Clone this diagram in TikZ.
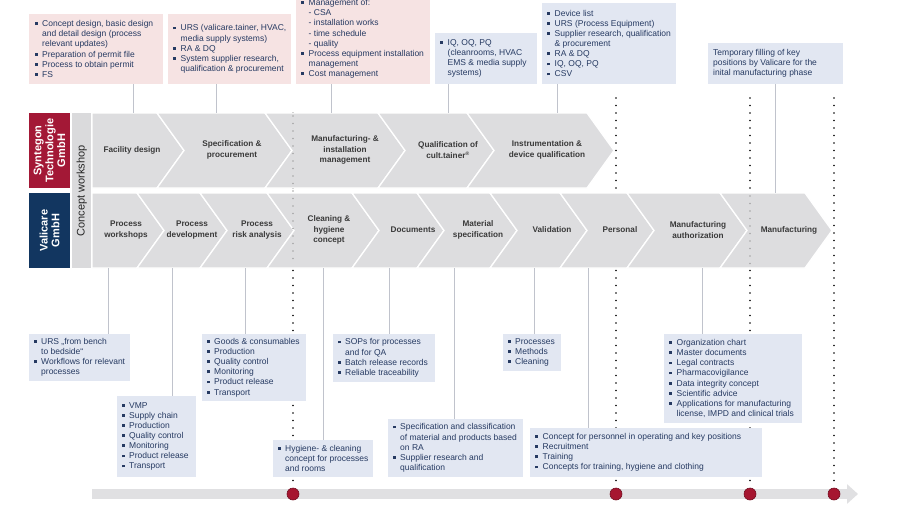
\documentclass[tikz,border=0pt]{standalone}
\usepackage{fontspec}
\setmainfont{Liberation Sans}
\usetikzlibrary{calc,arrows.meta}
\definecolor{pinkbox}{RGB}{246,227,227}
\definecolor{bluebox}{RGB}{226,231,242}
\definecolor{chev}{RGB}{221,221,223}
\definecolor{stripc}{RGB}{218,218,220}
\definecolor{synred}{RGB}{163,24,54}
\definecolor{valblue}{RGB}{18,54,96}
\definecolor{txtblue}{RGB}{38,58,98}
\definecolor{chevtxt}{RGB}{58,58,58}
\definecolor{connc}{RGB}{192,195,204}
\definecolor{dotred}{RGB}{166,22,48}
\definecolor{barc}{RGB}{224,224,226}
\newcommand\bul{\makebox[7.5pt][l]{\rule[1.5pt]{2.8pt}{2.8pt}}}
\newcommand\ind{\hspace*{7.5pt}}
\newcommand\chvnotch[4]{\filldraw[chevst] (#1,#3) -- (#2,#3) -- ({#2+27},{(#3+#4)/2}) -- (#2,#4) -- (#1,#4) -- ({#1+27},{(#3+#4)/2}) -- cycle;}
\newcommand\chvfirst[4]{\filldraw[chevst] (#1,#3) -- (#2,#3) -- ({#2+27},{(#3+#4)/2}) -- (#2,#4) -- (#1,#4) -- cycle;}
\begin{document}
\begin{tikzpicture}[x=1pt,y=-1pt,
  chevst/.style={fill=chev,draw=white,line width=1.3pt,line join=miter},
  pbox/.style={fill=pinkbox,anchor=north west,inner sep=0pt,outer sep=0pt},
  bbox/.style={fill=bluebox,anchor=north west,inner sep=0pt,outer sep=0pt},
  btxt/.style={anchor=west,inner sep=0pt,font=\fontsize{8.5}{10.15}\selectfont,text=txtblue,align=left},
  ctxt/.style={inner sep=0pt,font=\fontsize{8.2}{10.5}\selectfont\bfseries,text=chevtxt,align=center},
  conn/.style={draw=connc,line width=0.8pt},
  dotl/.style={draw=black,line width=1.7pt,line cap=round,dash pattern=on 0pt off 7.5pt},
  dotg/.style={draw=black!35,line width=1.6pt,line cap=round,dash pattern=on 0pt off 7.5pt},
  reddot/.style={circle,fill=dotred,draw=dotred!70!black,line width=0.6pt,minimum size=12pt,inner sep=0pt},
  comp/.style={inner sep=0pt,outer sep=0pt,minimum width=41pt,minimum height=75pt,anchor=north west}
]
\useasboundingbox (0,0) rectangle (900,506);
\fill[white] (0,0) rectangle (900,506);

% named coordinates
\coordinate (k1) at (133,113);
\coordinate (k2) at (216,113);
\coordinate (k3) at (331,113);
\coordinate (k4) at (448,113);
\coordinate (k5) at (557,113);
\coordinate (k6) at (775,193);
\coordinate (m1) at (108,268);
\coordinate (m2) at (172,268);
\coordinate (m3) at (245,268);
\coordinate (m4) at (323,268);
\coordinate (m5) at (389,268);
\coordinate (m6) at (454,268);
\coordinate (m7) at (534,268);
\coordinate (m8) at (588,268);
\coordinate (m9) at (702,268);
\coordinate (ds1) at (293,113);
\coordinate (ds2) at (616,98);
\coordinate (ds3) at (750,98);
\coordinate (ds4) at (834,98);
\coordinate (barL) at (92,494);
\coordinate (barR) at (858,494);

% timeline bar
\draw[barc,line width=10pt,-{Triangle[length=11pt,width=19pt]}] (barL) -- (barR);

% milestone dots
\node[reddot] (dot1) at (293,494) {};
\node[reddot] (dot2) at (616,494) {};
\node[reddot] (dot3) at (750,494) {};
\node[reddot] (dot4) at (834,494) {};

% dotted milestone lines
\draw[dotl] (ds1) -- (dot1.north);
\draw[dotl] (ds2) -- (dot2.north);
\draw[dotl] (ds3) -- (dot3.north);
\draw[dotl] (ds4) -- (dot4.north);

% company labels and concept workshop strip
\node[comp,fill=synred] (syn) at (29,113) {};
\node[rotate=90,font=\fontsize{11}{11.8}\selectfont\bfseries,text=white,align=center,inner sep=0pt] (synt) at (syn.center) {Syntegon\\Technologie\\GmbH};
\node[comp,fill=valblue] (val) at (29,193) {};
\node[rotate=90,font=\fontsize{11}{11.8}\selectfont\bfseries,text=white,align=center,inner sep=0pt] (valt) at (val.center) {Valicare\\GmbH};
\node[fill=stripc,anchor=north west,inner sep=0pt,minimum width=19pt,minimum height=155pt] (cw) at (72,113) {};
\node[rotate=90,font=\fontsize{11}{12}\selectfont,text=black!85,inner sep=0pt] (cwt) at (cw.center) {Concept workshop};

% top chevron row (Syntegon)
\chvfirst{92}{157}{113}{188}
\chvnotch{157}{265}{113}{188}
\chvnotch{265}{378}{113}{188}
\chvnotch{378}{467}{113}{188}
\chvnotch{467}{587}{113}{188}
% bottom chevron row (Valicare)
\chvfirst{92}{137}{193}{268}
\chvnotch{137}{200}{193}{268}
\chvnotch{200}{267}{193}{268}
\chvnotch{267}{352}{193}{268}
\chvnotch{352}{417}{193}{268}
\chvnotch{417}{490}{193}{268}
\chvnotch{490}{560}{193}{268}
\chvnotch{560}{627}{193}{268}
\chvnotch{627}{720}{193}{268}
\chvnotch{720}{805}{193}{268}

% dotted lines seen through the rows
\draw[dotg] (293,116) -- (293,266);
\draw[dotg] (750,196) -- (750,266);

% chevron labels
\node[ctxt] (c1) at (132,150) {Facility design};
\node[ctxt] (c2) at (232,150) {Specification \&\\procurement};
\node[ctxt] (c3) at (345,150) {Manufacturing- \&\\installation\\management};
\node[ctxt] (c4) at (448,150) {Qualification of\\cult.tainer\textsuperscript{\tiny\textregistered}};
\node[ctxt] (c5) at (547,150) {Instrumentation \&\\device qualification};
\node[ctxt] (v1) at (126,230) {Process\\workshops};
\node[ctxt] (v2) at (192,230) {Process\\development};
\node[ctxt] (v3) at (257,230) {Process\\risk analysis};
\node[ctxt] (v4) at (329,230) {Cleaning \&\\hygiene\\concept};
\node[ctxt] (v5) at (413,230) {Documents};
\node[ctxt] (v6) at (478,230) {Material\\specification};
\node[ctxt] (v7) at (552,230) {Validation};
\node[ctxt] (v8) at (620,230) {Personal};
\node[ctxt] (v9) at (698,230) {Manufacturing\\authorization};
\node[ctxt] (v10) at (789,230) {Manufacturing};

% top boxes
\node[pbox,minimum width=134pt,minimum height=70pt] (t1) at (29,14) {};
\node[btxt] (t1x) at ([xshift=5.5pt]t1.west) {\bul Concept design, basic design\\\ind and detail design (process\\\ind relevant updates)\\\bul Preparation of permit file\\\bul Process to obtain permit\\\bul FS};
\node[pbox,minimum width=123pt,minimum height=70pt] (t2) at (168,14) {};
\node[btxt] (t2x) at ([xshift=5pt]t2.west) {\bul URS (valicare.tainer, HVAC,\\\ind media supply systems)\\\bul RA \& DQ\\\bul System supplier research,\\\ind qualification \& procurement};
\node[pbox,minimum width=134pt,minimum height=90pt] (t3) at (296,-6) {};
\node[btxt] (t3x) at ([xshift=5pt]t3.west) {\bul Management of:\\\ind - CSA\\\ind - installation works\\\ind - time schedule\\\ind - quality\\\bul Process equipment installation\\\ind management\\\bul Cost management};
\node[bbox,minimum width=102pt,minimum height=51pt] (t4) at (435,33) {};
\node[btxt] (t4x) at ([xshift=5pt]t4.west) {\bul IQ, OQ, PQ\\\ind (cleanrooms, HVAC\\\ind EMS \& media supply\\\ind systems)};
\node[bbox,minimum width=134pt,minimum height=81pt] (t5) at (542,3) {};
\node[btxt] (t5x) at ([xshift=5pt]t5.west) {\bul Device list\\\bul URS (Process Equipment)\\\bul Supplier research, qualification\\\ind \& procurement\\\bul RA \& DQ\\\bul IQ, OQ, PQ\\\bul CSV};
\node[bbox,minimum width=135pt,minimum height=41pt] (t6) at (708,43) {};
\node[btxt] (t6x) at ([xshift=5pt]t6.west) {Temporary filling of key\\positions by Valicare for the\\inital manufacturing phase};

% bottom boxes
\node[bbox,minimum width=101pt,minimum height=47pt] (b1) at (29,334) {};
\node[btxt] (b1x) at ([xshift=4.5pt]b1.west) {\bul URS „from bench\\\ind to bedside“\\\bul Workflows for relevant\\\ind processes};
\node[bbox,minimum width=79pt,minimum height=81pt] (b2) at (117,396) {};
\node[btxt] (b2x) at ([xshift=4.5pt]b2.west) {\bul VMP\\\bul Supply chain\\\bul Production\\\bul Quality control\\\bul Monitoring\\\bul Product release\\\bul Transport};
\node[bbox,minimum width=104pt,minimum height=67pt] (b3) at (202,334) {};
\node[btxt] (b3x) at ([xshift=4.5pt]b3.west) {\bul Goods \& consumables\\\bul Production\\\bul Quality control\\\bul Monitoring\\\bul Product release\\\bul Transport};
\node[bbox,minimum width=100pt,minimum height=37pt] (b4) at (273,440) {};
\node[btxt] (b4x) at ([xshift=4.5pt]b4.west) {\bul Hygiene- \& cleaning\\\ind concept for processes\\\ind and rooms};
\node[bbox,minimum width=102pt,minimum height=48pt] (b5) at (333,334) {};
\node[btxt] (b5x) at ([xshift=4.5pt]b5.west) {\bul SOPs for processes\\\ind and for QA\\\bul Batch release records\\\bul Reliable traceability};
\node[bbox,minimum width=135pt,minimum height=58pt] (b6) at (388,419) {};
\node[btxt] (b6x) at ([xshift=4.5pt]b6.west) {\bul Specification and classification\\\ind of material and products based\\\ind on RA\\\bul Supplier research and\\\ind qualification};
\node[bbox,minimum width=58pt,minimum height=37pt] (b7) at (503,334) {};
\node[btxt] (b7x) at ([xshift=4.5pt]b7.west) {\bul Processes\\\bul Methods\\\bul Cleaning};
\node[bbox,minimum width=232pt,minimum height=49pt] (b8) at (530,428) {};
\node[btxt] (b8x) at ([xshift=5pt]b8.west) {\bul Concept for personnel in operating and key positions\\\bul Recruitment\\\bul Training\\\bul Concepts for training, hygiene and clothing};
\node[bbox,minimum width=138pt,minimum height=89pt] (b9) at (664,334) {};
\node[btxt] (b9x) at ([xshift=5pt]b9.west) {\bul Organization chart\\\bul Master documents\\\bul Legal contracts\\\bul Pharmacovigilance\\\bul Data integrity concept\\\bul Scientific advice\\\bul Applications for manufacturing\\\ind license, IMPD and clinical trials};

% connectors top
\draw[conn] (t1.south -| k1) -- (k1);
\draw[conn] (t2.south -| k2) -- (k2);
\draw[conn] (t3.south -| k3) -- (k3);
\draw[conn] (t4.south -| k4) -- (k4);
\draw[conn] (t5.south -| k5) -- (k5);
\draw[conn] (t6.south -| k6) -- (k6);
% connectors bottom
\draw[conn] (m1) -- (m1 |- b1.north);
\draw[conn] (m2) -- (m2 |- b2.north);
\draw[conn] (m3) -- (m3 |- b3.north);
\draw[conn] (m4) -- (m4 |- b4.north);
\draw[conn] (m5) -- (m5 |- b5.north);
\draw[conn] (m6) -- (m6 |- b6.north);
\draw[conn] (m7) -- (m7 |- b7.north);
\draw[conn] (m8) -- (m8 |- b8.north);
\draw[conn] (m9) -- (m9 |- b9.north);
\end{tikzpicture}
\end{document}
